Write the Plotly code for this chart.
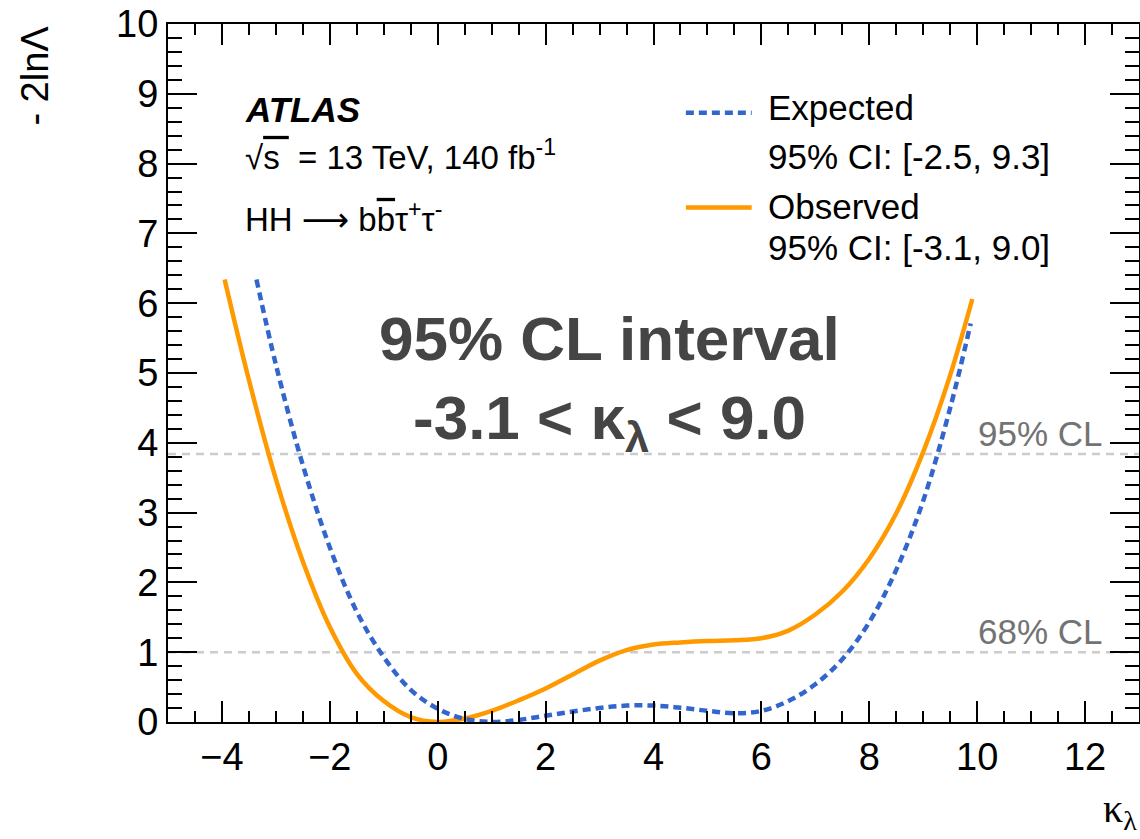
import plotly.graph_objects as go

# Likelihood scan of the Higgs self-coupling modifier kappa_lambda
kl_obs = [-3.95, -3.50, -3.00, -2.50, -2.00, -1.50, -1.00, -0.50, 0.00,
          0.50, 1.00, 1.50, 2.00, 2.50, 3.00, 3.50, 4.00, 4.50, 5.00, 5.50, 6.00,
          6.50, 7.00, 7.50, 8.00, 8.50, 9.00, 9.50, 9.91]
nll_obs = [6.34, 4.90, 3.48, 2.30, 1.36, 0.69, 0.30, 0.07, 0.00,
           0.05, 0.16, 0.31, 0.48, 0.68, 0.88, 1.03, 1.11, 1.14, 1.16, 1.17, 1.20,
           1.31, 1.54, 1.87, 2.34, 2.99, 3.87, 4.97, 6.06]

kl_exp = [-3.36, -3.00, -2.50, -2.00, -1.50, -1.00, -0.50, 0.00, 0.50,
          1.00, 1.50, 2.00, 2.50, 3.00, 3.50, 4.00, 4.50, 5.00, 5.50, 6.00,
          6.50, 7.00, 7.50, 8.00, 8.50, 9.00, 9.50, 9.88]
nll_exp = [6.34, 5.12, 3.68, 2.50, 1.58, 0.93, 0.46, 0.19, 0.045,
           0.00, 0.03, 0.09, 0.15, 0.20, 0.235, 0.235, 0.205, 0.16, 0.125, 0.16,
           0.30, 0.54, 0.90, 1.43, 2.18, 3.17, 4.50, 5.71]

exp_ci = [-2.5, 9.3]
obs_ci = [-3.1, 9.0]

cl_levels = [1.0, 3.84]
cl_names = ["68% CL", "95% CL"]

ORANGE = "#ff9900"
BLUE = "#3366cc"
SANS = "Liberation Sans, Arial, Helvetica, sans-serif"
SERIF = "Liberation Serif, Times New Roman, serif"
DOTS = "8px,5px"

fig = go.Figure()

fig.add_trace(go.Scatter(
    x=kl_obs, y=nll_obs, mode="lines", hoverinfo="skip", showlegend=False,
    line=dict(color=ORANGE, width=4.5, shape="spline", smoothing=1.0),
))
fig.add_trace(go.Scatter(
    x=kl_exp, y=nll_exp, mode="lines", hoverinfo="skip", showlegend=False,
    line=dict(color=BLUE, width=4.5, dash=DOTS, shape="spline", smoothing=1.0),
))

# confidence-level reference lines and their labels
for lvl, name in zip(cl_levels, cl_names):
    fig.add_shape(type="line", xref="paper", x0=0, x1=1, yref="y", y0=lvl, y1=lvl,
                  line=dict(color="#cccccc", width=2.5, dash="8px,6px"), layer="below")
    fig.add_annotation(x=12.36, y=lvl, xref="x", yref="y", text=name, showarrow=False,
                       xanchor="right", yanchor="bottom", borderpad=0,
                       font=dict(family=SANS, size=35, color="#737373"))

# legend block
fig.add_shape(type="line", xref="x", yref="y", x0=4.60, x1=5.82, y0=8.73, y1=8.73,
              line=dict(color=BLUE, width=4.5, dash=DOTS))
fig.add_shape(type="line", xref="x", yref="y", x0=4.60, x1=5.82, y0=7.37, y1=7.37,
              line=dict(color=ORANGE, width=4.5))
legend_lines = [
    ("Expected", 8.80),
    ("95%% CI: [%.1f, %.1f]" % (exp_ci[0], exp_ci[1]), 8.10),
    ("Observed", 7.39),
    ("95%% CI: [%.1f, %.1f]" % (obs_ci[0], obs_ci[1]), 6.80),
]
for txt, yy in legend_lines:
    fig.add_annotation(x=6.08, y=yy, xref="x", yref="y", text=txt, showarrow=False,
                       xanchor="left", yanchor="middle",
                       font=dict(family=SANS, size=35, color="black"))

# experiment label
fig.add_annotation(x=-3.61, y=8.77, xref="x", yref="y", text="<b><i>ATLAS</i></b>",
                   showarrow=False, xanchor="left", yanchor="middle",
                   font=dict(family=SANS, size=35, color="black"))
fig.add_annotation(x=-3.61, y=8.12, xref="x", yref="y",
                   text="√<span style='text-decoration:overline'>s </span> = 13 TeV, 140 fb<sup>-1</sup>",
                   showarrow=False, xanchor="left", yanchor="middle",
                   font=dict(family=SANS, size=33, color="black"))
fig.add_annotation(x=-3.61, y=7.23, xref="x", yref="y",
                   text="HH <span style='font-family:DejaVu Sans'>⟶</span> "
                        "b<span style='text-decoration:overline'>b</span>τ<sup>+</sup>τ<sup>-</sup>",
                   showarrow=False, xanchor="left", yanchor="middle",
                   font=dict(family=SANS, size=33, color="black"))

# headline result
fig.add_annotation(x=3.18, y=5.50, xref="x", yref="y", text="<b>95% CL interval</b>",
                   showarrow=False, xanchor="center", yanchor="middle",
                   font=dict(family=SANS, size=62, color="#454545"))
fig.add_annotation(x=3.18, y=4.30, xref="x", yref="y",
                   text="<b>%.1f < κ<sub>λ</sub> < %.1f</b>" % (obs_ci[0], obs_ci[1]),
                   showarrow=False, xanchor="center", yanchor="middle",
                   font=dict(family=SANS, size=62, color="#454545"))

# axis titles
fig.add_annotation(x=-0.137, y=9.26, xref="paper", yref="y", text="- 2lnΛ",
                   textangle=-90, showarrow=False, xanchor="center", yanchor="middle",
                   font=dict(family=SANS, size=38, color="black"))
fig.add_annotation(x=1.0, y=-0.128, xref="paper", yref="paper", text="κ<sub>λ</sub>",
                   showarrow=False, xanchor="right", yanchor="middle",
                   font=dict(family=SERIF, size=40, color="black"))

axis_common = dict(
    ticks="inside", tickwidth=2, tickcolor="black",
    showline=True, linewidth=2, linecolor="black", mirror="ticks",
    showgrid=False, zeroline=False,
    tickfont=dict(family=SANS, size=38, color="black"),
)

fig.update_xaxes(range=[-5, 13], tickmode="linear", tick0=0, dtick=2, ticklen=21,
                 minor=dict(dtick=0.5, ticks="inside", ticklen=11, tickwidth=2,
                            tickcolor="black", showgrid=False),
                 **axis_common)
fig.update_yaxes(range=[0, 10], tickmode="linear", tick0=0, dtick=1, ticklen=29,
                 minor=dict(dtick=0.2, ticks="inside", ticklen=14, tickwidth=2,
                            tickcolor="black", showgrid=False),
                 **axis_common)

fig.update_layout(
    width=1140, height=839,
    margin=dict(l=168, r=1, t=24, b=117, autoexpand=False),
    plot_bgcolor="white", paper_bgcolor="white",
    showlegend=False,
    font=dict(family=SANS, color="black"),
)

fig.write_html("out.html")
